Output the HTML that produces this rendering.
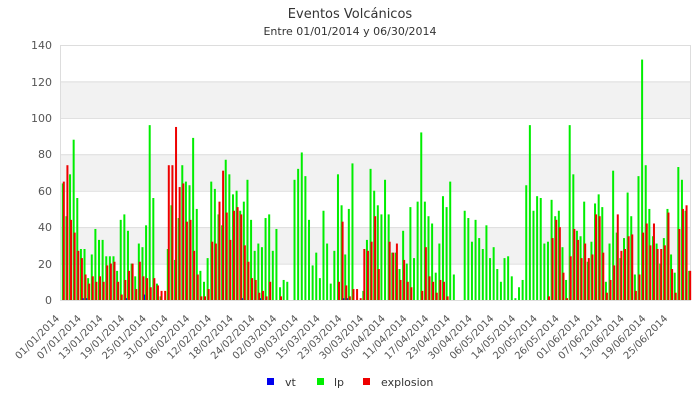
<!DOCTYPE html>
<html><head><meta charset="utf-8"><style>
body{margin:0;background:#fff;}
svg{display:block;font-family:"DejaVu Sans","Liberation Sans",sans-serif;}
</style></head><body>
<svg id="c" width="700" height="400" xmlns="http://www.w3.org/2000/svg">
<rect width="700" height="400" fill="#fff"/>
<rect x="60" y="81.4" width="630" height="36.4" fill="#f2f2f2"/>
<rect x="60" y="154.3" width="630" height="36.4" fill="#f2f2f2"/>
<rect x="60" y="227.1" width="630" height="36.4" fill="#f2f2f2"/>
<g stroke="#dddddd" stroke-width="1">
<line x1="60" x2="690" y1="45.5" y2="45.5"/>
<line x1="60" x2="690" y1="81.9" y2="81.9"/>
<line x1="60" x2="690" y1="118.4" y2="118.4"/>
<line x1="60" x2="690" y1="154.8" y2="154.8"/>
<line x1="60" x2="690" y1="191.2" y2="191.2"/>
<line x1="60" x2="690" y1="227.6" y2="227.6"/>
<line x1="60" x2="690" y1="264.1" y2="264.1"/>
<line x1="60" x2="690" y1="300.5" y2="300.5"/>
<line x1="60.5" x2="60.5" y1="45" y2="301"/>
<line x1="690.5" x2="690.5" y1="45" y2="301"/>
</g>
<g id="bars"></g>
<text x="350" y="18" text-anchor="middle" font-size="13" fill="#333">Eventos Volcánicos</text>
<text x="350" y="35" text-anchor="middle" font-size="11" fill="#333">Entre 01/01/2014 y 06/30/2014</text>
<g font-size="11" fill="#555" text-anchor="end">
<text x="52" y="304">0</text><text x="52" y="268">20</text><text x="52" y="231">40</text>
<text x="52" y="195">60</text><text x="52" y="158">80</text><text x="52" y="122">100</text>
<text x="52" y="86">120</text><text x="52" y="49">140</text>
</g>
<g id="xl" font-size="10" fill="#555" text-anchor="end">
<text transform="translate(60,319) rotate(-45)">01/01/2014</text>
<text transform="translate(81.7,319) rotate(-45)">07/01/2014</text>
<text transform="translate(103.4,319) rotate(-45)">13/01/2014</text>
<text transform="translate(125.2,319) rotate(-45)">19/01/2014</text>
<text transform="translate(146.9,319) rotate(-45)">25/01/2014</text>
<text transform="translate(168.6,319) rotate(-45)">31/01/2014</text>
<text transform="translate(190.3,319) rotate(-45)">06/02/2014</text>
<text transform="translate(212,319) rotate(-45)">12/02/2014</text>
<text transform="translate(233.8,319) rotate(-45)">18/02/2014</text>
<text transform="translate(255.5,319) rotate(-45)">24/02/2014</text>
<text transform="translate(277.2,319) rotate(-45)">02/03/2014</text>
<text transform="translate(298.9,319) rotate(-45)">09/03/2014</text>
<text transform="translate(320.6,319) rotate(-45)">15/03/2014</text>
<text transform="translate(342.4,319) rotate(-45)">23/03/2014</text>
<text transform="translate(364.1,319) rotate(-45)">30/03/2014</text>
<text transform="translate(385.8,319) rotate(-45)">05/04/2014</text>
<text transform="translate(407.5,319) rotate(-45)">11/04/2014</text>
<text transform="translate(429.2,319) rotate(-45)">17/04/2014</text>
<text transform="translate(451,319) rotate(-45)">23/04/2014</text>
<text transform="translate(472.7,319) rotate(-45)">30/04/2014</text>
<text transform="translate(494.4,319) rotate(-45)">06/05/2014</text>
<text transform="translate(516.1,319) rotate(-45)">14/05/2014</text>
<text transform="translate(537.8,319) rotate(-45)">20/05/2014</text>
<text transform="translate(559.6,319) rotate(-45)">26/05/2014</text>
<text transform="translate(581.3,319) rotate(-45)">01/06/2014</text>
<text transform="translate(603,319) rotate(-45)">07/06/2014</text>
<text transform="translate(624.7,319) rotate(-45)">13/06/2014</text>
<text transform="translate(646.4,319) rotate(-45)">19/06/2014</text>
<text transform="translate(668.2,319) rotate(-45)">25/06/2014</text>
</g>
<rect x="267" y="378" width="7" height="7" fill="#0000ee"/>
<text x="285" y="386" font-size="11" fill="#333">vt</text>
<rect x="317" y="378" width="7" height="7" fill="#00ee00"/>
<text x="334" y="386" font-size="11" fill="#333">lp</text>
<rect x="363" y="378" width="7" height="7" fill="#ee0000"/>
<text x="381" y="386" font-size="11" fill="#333">explosion</text>
</svg>
<script>
var g=[64,46,69,88,56,28,28,12,25,39,33,33,24,24,24,16,44,47,38,20,13,31,29,41,96,56,9,2,0,28,52,22,45,74,65,63,89,50,16,10,23,65,61,
47,41,77,69,58,60,49,54,66,44,27,31,29,45,47,27,39,7,11,10,0,66,72,81,68,44,19,26,12,49,31,9,27,69,52,25,50,75,0,0,5,33,72,60,
52,47,66,47,26,26,17,38,20,51,23,54,92,54,46,42,15,31,57,51,65,14,0,0,49,45,32,44,34,28,41,23,29,17,10,23,24,13,1,7,11,63,96,
49,57,56,31,32,55,46,49,29,11,96,69,38,35,54,21,32,53,58,51,10,31,71,37,23,34,59,46,14,68,132,74,50,35,31,20,34,50,25,15,73,66,49,16];
var r=[65,74,44,37,27,23,14,9,13,10,13,10,19,20,21,10,3,11,16,20,6,21,13,12,7,12,8,5,5,74,74,95,62,64,43,44,27,14,2,2,6,32,31,
54,71,48,33,49,51,47,30,21,12,11,4,5,2,10,0,0,2,0,0,0,
0,0,0,0,0,0,0,0,0,0,0,0,10,43,8,2,6,6,1,28,27,32,46,
17,0,0,32,26,31,11,22,10,7,0,0,5,29,13,10,4,11,10,2,0,0,0,0,
0,0,0,0,0,0,0,0,0,0,0,0,0,0,0,0,0,0,0,
0,0,0,0,2,34,44,40,15,1,24,39,33,23,31,23,25,47,46,26,4,11,19,47,27,28,35,36,5,14,37,42,30,42,28,28,30,48,17,4,39,50,52,16];
var b={6:1,7:1,18:1,23:3,50:1,55:1,78:1,79:1};
var s='',k=630/174,u=255/140;
function bar(x,v,c){if(v<=0)return '';var h=v*u;return '<rect x="'+x.toFixed(2)+'" y="'+(300-h).toFixed(2)+'" width="2" height="'+h.toFixed(2)+'" fill="'+c+'"/>';}
for(var i=0;i<174;i++){var x=60+i*k+1.8;
 if(b[i])s+=bar(x-1,b[i],'#0000ee');
 s+=bar(x,g[i],'#00ee00');
 s+=bar(x+1,r[i],'#ee0000');}
document.getElementById('bars').innerHTML=s;
</script>
</body></html>
